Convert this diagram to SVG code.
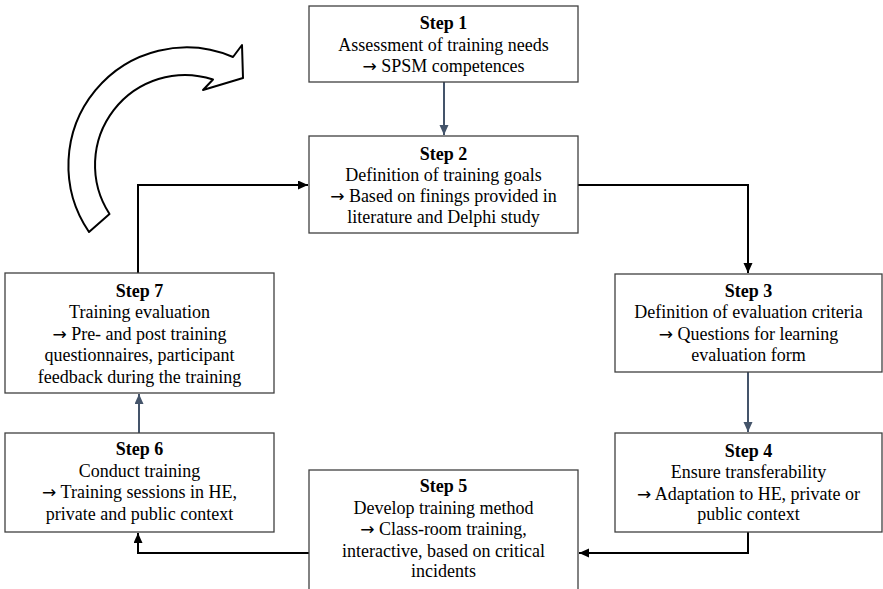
<svg xmlns="http://www.w3.org/2000/svg" width="883" height="589" viewBox="0 0 883 589">
<style>
.box{fill:#fff;stroke:#404040;stroke-width:1.3}
.t{font-family:"Liberation Serif","Times New Roman",serif;font-size:18px;fill:#000;text-anchor:middle}
.b{font-weight:bold}
.ar{font-family:"DejaVu Sans",sans-serif;font-size:17px}
.k{fill:none;stroke:#000;stroke-width:2}
.s{fill:none;stroke:#44546A;stroke-width:2}
</style>
<defs>
<marker id="ak" markerUnits="userSpaceOnUse" markerWidth="11" markerHeight="10" refX="10" refY="4.5" orient="auto"><path d="M0,0 L10,4.5 L0,9 z" fill="#000"/></marker>
<marker id="as" markerUnits="userSpaceOnUse" markerWidth="11" markerHeight="10" refX="10" refY="4.5" orient="auto"><path d="M0,0 L10,4.5 L0,9 z" fill="#44546A"/></marker>
</defs>
<rect width="883" height="589" fill="#fff"/>
<path id="cycle" d="M89,232 A118,118 0 0 1 233,57 L242,45 L243,78 L203,90 L213,79.5 A90,90 0 0 0 109.5,214 Z" fill="#fff" stroke="#000" stroke-width="2" stroke-linejoin="round"/>
<g id="connectors">
<path class="s" d="M444,82 V135" marker-end="url(#as)"/>
<path class="k" d="M578,185 H748 V273" marker-end="url(#ak)"/>
<path class="s" d="M748,372 V432" marker-end="url(#as)"/>
<path class="k" d="M748,532 V553 H579" marker-end="url(#ak)"/>
<path class="k" d="M309,553 H138 V533" marker-end="url(#ak)"/>
<path class="s" d="M139,433 V394" marker-end="url(#as)"/>
<path class="k" d="M138,273 V185 H308" marker-end="url(#ak)"/>
</g>
<g id="step1">
<rect class="box" x="309" y="6" width="269" height="76"/>
<text class="t b" x="443.5" y="29">Step 1</text>
<text class="t" x="443.5" y="50.5">Assessment of training needs</text>
<text class="t" x="443.5" y="72"><tspan class="ar">→</tspan> SPSM competences</text>
</g>
<g id="step2">
<rect class="box" x="309" y="136" width="269" height="97"/>
<text class="t b" x="443.5" y="159.5">Step 2</text>
<text class="t" x="443.5" y="180.5">Definition of training goals</text>
<text class="t" x="443.5" y="201.5"><tspan class="ar">→</tspan> Based on finings provided in</text>
<text class="t" x="443.5" y="222.5">literature and Delphi study</text>
</g>
<g id="step3">
<rect class="box" x="615" y="274" width="267" height="98"/>
<text class="t b" x="748.5" y="297">Step 3</text>
<text class="t" x="748.5" y="318">Definition of evaluation criteria</text>
<text class="t" x="748.5" y="340"><tspan class="ar">→</tspan> Questions for learning</text>
<text class="t" x="748.5" y="361">evaluation form</text>
</g>
<g id="step4">
<rect class="box" x="615" y="433" width="267" height="99"/>
<text class="t b" x="748.5" y="457">Step 4</text>
<text class="t" x="748.5" y="478">Ensure transferability</text>
<text class="t" x="748.5" y="499.5"><tspan class="ar">→</tspan> Adaptation to HE, private or</text>
<text class="t" x="748.5" y="520">public context</text>
</g>
<g id="step5">
<rect class="box" x="309" y="470" width="269" height="124"/>
<text class="t b" x="443.5" y="492">Step 5</text>
<text class="t" x="443.5" y="513.5">Develop training method</text>
<text class="t" x="443.5" y="535"><tspan class="ar">→</tspan> Class-room training,</text>
<text class="t" x="443.5" y="556.5">interactive, based on critical</text>
<text class="t" x="443.5" y="577">incidents</text>
</g>
<g id="step6">
<rect class="box" x="5" y="433" width="269" height="99"/>
<text class="t b" x="139.5" y="455">Step 6</text>
<text class="t" x="139.5" y="476.5">Conduct training</text>
<text class="t" x="139.5" y="498"><tspan class="ar">→</tspan> Training sessions in HE,</text>
<text class="t" x="139.5" y="519.5">private and public context</text>
</g>
<g id="step7">
<rect class="box" x="5" y="273" width="269" height="120"/>
<text class="t b" x="139.5" y="297">Step 7</text>
<text class="t" x="139.5" y="318">Training evaluation</text>
<text class="t" x="139.5" y="339.5"><tspan class="ar">→</tspan> Pre- and post training</text>
<text class="t" x="139.5" y="361">questionnaires, participant</text>
<text class="t" x="139.5" y="382.5">feedback during the training</text>
</g>
</svg>
